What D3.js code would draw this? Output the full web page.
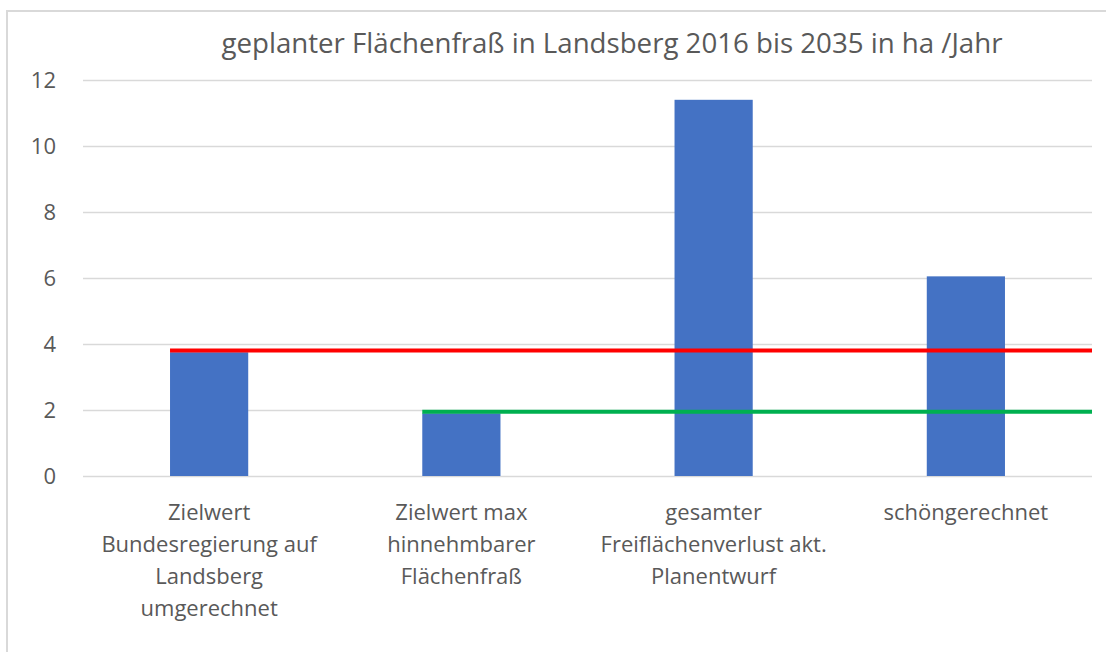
<!DOCTYPE html>
<html>
<head>
<meta charset="utf-8">
<script src="https://cdn.jsdelivr.net/npm/d3@7"></script>
<style>
  body { margin: 0; background: #fff; }
  svg text { font-family: "Open Sans", "Noto Sans", sans-serif; fill: #595959; }
  .grid line { stroke: #d9d9d9; stroke-width: 1.5; }
</style>
</head>
<body>
<div id="chart"></div>
<script>
const title = 'geplanter Flächenfraß in Landsberg 2016 bis 2035 in ha /Jahr';
const categories = [
  ['Zielwert', 'Bundesregierung auf', 'Landsberg', 'umgerechnet'],
  ['Zielwert max', 'hinnehmbarer', 'Flächenfraß'],
  ['gesamter', 'Freiflächenverlust akt.', 'Planentwurf'],
  ['schöngerechnet'],
];
const values = [3.75, 1.9, 11.4, 6.05];
const yTicks = [0, 2, 4, 6, 8, 10, 12];
// horizontal reference lines: value and first category they start at
const refValues = [3.8, 1.95];
const refStart = [0, 1];
const refColors = ['#ff0000', '#00b050'];

const W = 1106, H = 652;
const margin = { top: 80, right: 14, bottom: 176, left: 83 };
const width = W - margin.left - margin.right;
const height = H - margin.top - margin.bottom;

const svg = d3.select('#chart').append('svg')
  .attr('width', W)
  .attr('height', H);

// chart frame (cut off at right and bottom)
svg.append('rect')
  .attr('x', 7).attr('y', 11)
  .attr('width', W + 20).attr('height', H + 20)
  .attr('fill', 'none')
  .attr('stroke', '#d9d9d9')
  .attr('stroke-width', 2);

svg.append('text')
  .attr('x', 612).attr('y', 53)
  .attr('text-anchor', 'middle')
  .style('font-size', '27px')
  .attr('textLength', 781)
  .attr('lengthAdjust', 'spacingAndGlyphs')
  .text(title);

const g = svg.append('g')
  .attr('transform', `translate(${margin.left},${margin.top})`);

const x = d3.scaleBand()
  .domain(d3.range(categories.length))
  .range([0, width])
  .paddingInner(0.69)
  .paddingOuter(0.345);

const y = d3.scaleLinear()
  .domain([0, 12])
  .range([height, 0]);

// y axis with grid lines
g.append('g')
  .attr('class', 'grid')
  .call(d3.axisLeft(y).tickValues(yTicks).tickSize(-width).tickPadding(27))
  .call(ax => ax.select('.domain').remove())
  .call(ax => ax.selectAll('.tick line').attr('x1', 0).attr('x2', width))
  .call(ax => ax.selectAll('.tick text')
    .style('font-size', '22px')
    .attr('fill', '#595959'));

// bars
g.selectAll('.bar')
  .data(values)
  .enter()
  .append('rect')
  .attr('class', 'bar')
  .attr('x', (d, i) => x(i))
  .attr('y', d => y(d))
  .attr('width', x.bandwidth())
  .attr('height', d => y(0) - y(d))
  .attr('fill', '#4472c4');

// reference lines
g.selectAll('.ref')
  .data(refValues)
  .enter()
  .append('line')
  .attr('class', 'ref')
  .attr('x1', (d, i) => x(refStart[i]))
  .attr('x2', width)
  .attr('y1', d => y(d))
  .attr('y2', d => y(d))
  .attr('stroke', (d, i) => refColors[i])
  .attr('stroke-width', 4);

// category labels
const labels = g.append('g')
  .selectAll('text')
  .data(categories)
  .enter()
  .append('text')
  .attr('text-anchor', 'middle')
  .style('font-size', '22px')
  .attr('transform', (d, i) => `translate(${x(i) + x.bandwidth() / 2},${height + 44})`);

labels.selectAll('tspan')
  .data(d => d)
  .enter()
  .append('tspan')
  .attr('x', 0)
  .attr('y', (d, i) => i * 32)
  .text(d => d);
</script>
</body>
</html>
